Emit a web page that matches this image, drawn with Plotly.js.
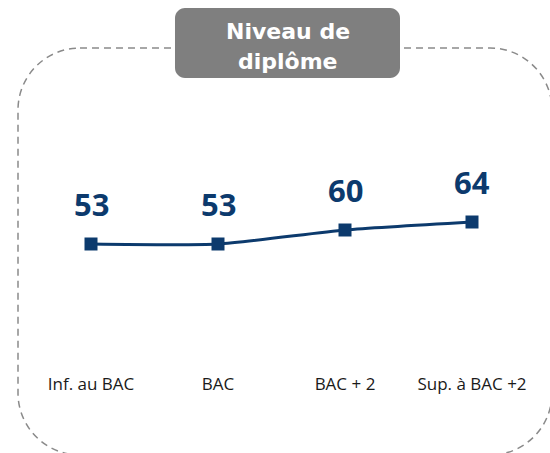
<!DOCTYPE html>
<html>
<head>
<meta charset="utf-8">
<script src="https://cdn.plot.ly/plotly-3.0.1.min.js"></script>
<style>html,body{margin:0;padding:0;background:#fff;}#chart{width:550px;height:453px;}</style>
</head>
<body>
<div id="chart"></div>
<script>
const categories = ["Inf. au BAC", "BAC", "BAC + 2", "Sup. à BAC +2"];
const values = [53, 53, 60, 64];
const titleLines = ["Niveau de", "diplôme"];

const W = 550, H = 453;
const NAVY = "#0c3a6d";
function px(x){ return (x / W).toFixed(5); }
function py(y){ return (1 - y / H).toFixed(5); }

function roundedRectPath(l, t, r, b, rad){
  const k = 0.5523 * rad;
  return [
    "M", px(l + rad), py(t),
    "L", px(r - rad), py(t),
    "C", px(r - rad + k), py(t), px(r), py(t + rad - k), px(r), py(t + rad),
    "L", px(r), py(b - rad),
    "C", px(r), py(b - rad + k), px(r - rad + k), py(b), px(r - rad), py(b),
    "L", px(l + rad), py(b),
    "C", px(l + rad - k), py(b), px(l), py(b - rad + k), px(l), py(b - rad),
    "L", px(l), py(t + rad),
    "C", px(l), py(t + rad - k), px(l + rad - k), py(t), px(l + rad), py(t),
    "Z"
  ].join(" ");
}

const trace = {
  x: categories,
  y: values,
  type: "scatter",
  mode: "lines+markers",
  line: {color: NAVY, width: 3, shape: "spline", smoothing: 0.6},
  marker: {symbol: "square", size: 13, color: NAVY},
  hoverinfo: "none",
  cliponaxis: false
};

const annotations = values.map((v, i) => ({
  x: categories[i], y: v, xref: "x", yref: "y",
  text: String(v), showarrow: false,
  yanchor: "bottom", yshift: 17,
  font: {family: "Open Sans", size: 31, color: NAVY, weight: "bold"}
}));

const titleCenters = [31, 61];
titleLines.forEach((t, i) => {
  annotations.push({
    x: 287.5 / W, y: 1 - titleCenters[i] / H, xref: "paper", yref: "paper",
    text: t, showarrow: false,
    xanchor: "center", yanchor: "middle",
    font: {family: "DejaVu Sans", size: 22, color: "#ffffff", weight: "bold"}
  });
});

const layout = {
  width: W, height: H,
  margin: {l: 0, r: 0, t: 0, b: 0},
  paper_bgcolor: "#ffffff",
  plot_bgcolor: "rgba(0,0,0,0)",
  showlegend: false,
  xaxis: {
    domain: [27.5 / W, 535.5 / W],
    range: [-0.5, 3.5],
    type: "category",
    showgrid: false, zeroline: false, showline: false,
    ticks: "", ticklabelstandoff: 2,
    tickfont: {family: "Open Sans", size: 17, color: "#1a1a1a"}
  },
  yaxis: {
    domain: [1 - 370 / H, 1 - 100 / H],
    range: [-10, 125],
    showgrid: false, zeroline: false, showline: false,
    showticklabels: false, ticks: ""
  },
  shapes: [
    {
      type: "path", xref: "paper", yref: "paper", layer: "below",
      path: roundedRectPath(18, 48, 552, 455, 62),
      line: {color: "#8a8a8a", width: 1.5, dash: "7px,5px"},
      fillcolor: "rgba(0,0,0,0)"
    },
    {
      type: "path", xref: "paper", yref: "paper", layer: "below",
      path: roundedRectPath(175, 8, 400, 78, 10),
      line: {width: 0},
      fillcolor: "#7f7f7f"
    }
  ],
  annotations: annotations
};

Plotly.newPlot("chart", [trace], layout, {displayModeBar: false, staticPlot: true});
</script>
</body>
</html>
